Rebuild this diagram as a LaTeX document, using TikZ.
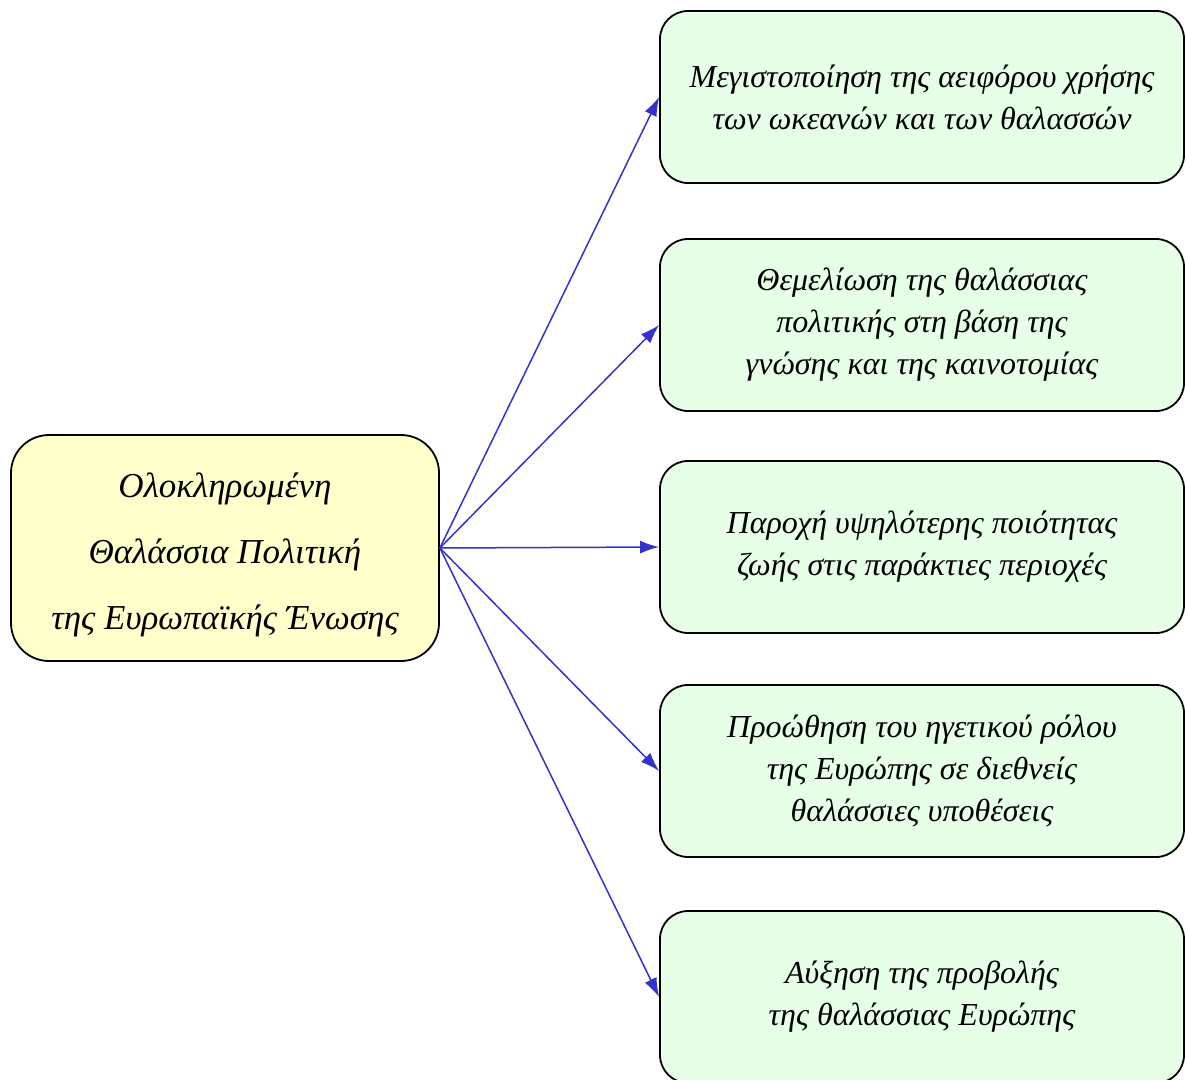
\documentclass[tikz,border=0pt]{standalone}
\usepackage{fontspec}
\setmainfont{Liberation Serif}
\usetikzlibrary{arrows.meta}
\definecolor{arrowblue}{HTML}{3333CC}
\definecolor{mainfill}{HTML}{FFFFCC}
\definecolor{goalfill}{HTML}{E6FFE6}
\tikzset{
  mainbox/.style={draw=black, line width=1.8pt, fill=mainfill, rounded corners=38pt,
    minimum width=428pt, minimum height=226pt, inner sep=0pt, align=center,
    font={\fontsize{35}{66}\selectfont\itshape}},
  goalbox/.style={draw=black, line width=1.8pt, fill=goalfill, rounded corners=28pt,
    minimum width=524pt, minimum height=172pt, inner sep=0pt, align=center,
    font={\fontsize{32}{42}\selectfont\itshape}},
  link/.style={draw=arrowblue, line width=1.5pt, -{Latex[length=19pt,width=13pt]}}
}
\begin{document}
\begin{tikzpicture}[x=1pt,y=-1pt]
\useasboundingbox[fill=white] (0,0) rectangle (1186,1079);
\node[mainbox] (c) at (225,548) {};
\node[font={\fontsize{35}{66}\selectfont\itshape}, align=center, inner sep=0pt] (ct) at (225,555) {Ολοκληρωμένη\\Θαλάσσια Πολιτική\\της Ευρωπαϊκής Ένωσης};
\node[goalbox] (g1) at (922,97) {Μεγιστοποίηση της αειφόρου χρήσης\\των ωκεανών και των θαλασσών};
\node[goalbox] (g2) at (922,325) {Θεμελίωση της θαλάσσιας\\πολιτικής στη βάση της\\γνώσης και της καινοτομίας};
\node[goalbox] (g3) at (922,547) {Παροχή υψηλότερης ποιότητας\\ζωής στις παράκτιες περιοχές};
\node[goalbox] (g4) at (922,771) {Προώθηση του ηγετικού ρόλου\\της Ευρώπης σε διεθνείς\\θαλάσσιες υποθέσεις};
\node[goalbox] (g5) at (922,997) {Αύξηση της προβολής\\της θαλάσσιας Ευρώπης};
\foreach \g in {g1,g2,g3,g4,g5}
  \draw[link] (c.east) -- (\g.west);
\end{tikzpicture}
\end{document}
